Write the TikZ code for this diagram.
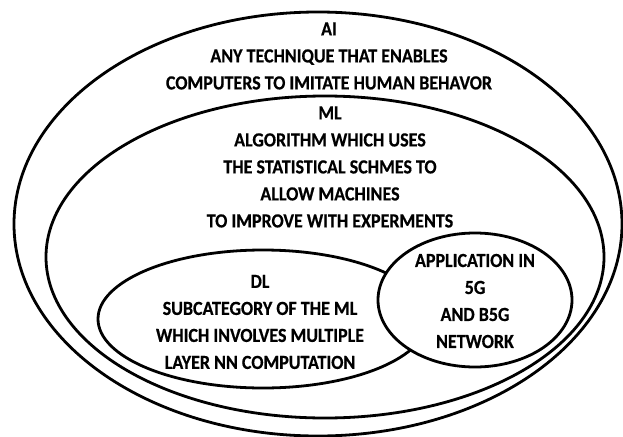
\documentclass[tikz,border=0pt]{standalone}
\usepackage{fontspec}
\setmainfont{Carlito}
\newfontfamily\tallfont{Carlito}[FakeStretch=0.9,BoldFeatures={FakeBold=0.5}]
\usetikzlibrary{shapes.geometric}
\begin{document}
\begin{tikzpicture}[x=1pt,y=-1pt,
  ring/.style={draw=black,line width=2.8pt,ellipse,inner sep=0pt,outer sep=0pt},
  label/.style={align=center,inner sep=0pt,font=\tallfont\bfseries\fontsize{20}{27}\selectfont}]
  \useasboundingbox (0,0) rectangle (623,436);
  % nested sets: AI contains ML, ML contains DL and the 5G application
  \node[ring,minimum width=608pt,minimum height=424pt] (ai) at (318,224) {};
  \node[ring,minimum width=558pt,minimum height=322pt] (ml) at (325,257) {};
  \node[ring,minimum width=330pt,minimum height=138pt] (dl) at (263,319) {};
  \node[ring,fill=white,minimum width=194pt,minimum height=134pt] (app) at (475,300) {};
  % texts
  \node[label] (aitext) at (329,56) {AI\\ANY TECHNIQUE THAT ENABLES\\COMPUTERS TO IMITATE HUMAN BEHAVOR};
  \node[label] (mltext) at (330,167) {ML\\ALGORITHM WHICH USES\\THE STATISTICAL SCHMES TO\\ALLOW MACHINES\\TO IMPROVE WITH EXPERMENTS};
  \node[label] (dltext) at (260,322) {DL\\SUBCATEGORY OF THE ML\\WHICH INVOLVES MULTIPLE\\LAYER NN COMPUTATION};
  \node[label] (apptext) at (475,301) {APPLICATION IN\\5G\\AND B5G\\NETWORK};
\end{tikzpicture}
\end{document}
